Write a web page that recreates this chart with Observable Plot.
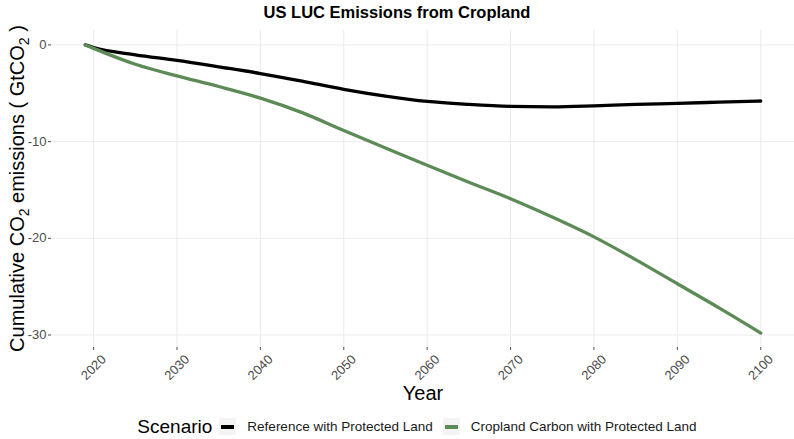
<!DOCTYPE html>
<html>
<head>
<meta charset="utf-8">
<script src="https://cdn.jsdelivr.net/npm/d3@7"></script>
<script src="https://cdn.jsdelivr.net/npm/@observablehq/plot@0.6"></script>
<style>
  body { margin: 0; background: #fff; font-family: "Liberation Sans", Arial, sans-serif; }
  #wrap { width: 794px; height: 439px; overflow: hidden; }
  #title { height: 24px; line-height: 24px; text-align: center; font-weight: bold; font-size: 16.5px; color: #000; }
  #legend { height: 25px; display: flex; align-items: center; justify-content: center; padding-left: 50px; box-sizing: border-box; width: 794px; }
  .lg-title { font-size: 19px; color: #000; margin-right: 7px; }
  .lg-key { width: 17px; height: 17px; background: #f4f4f4; position: relative; margin-right: 11px; }
  .lg-key span { position: absolute; left: 2px; right: 2px; top: 7px; height: 3.5px; }
  .lg-label { font-size: 13.5px; color: #1a1a1a; margin-right: 10px; }
</style>
</head>
<body>
<div id="wrap">
  <div id="title">US LUC Emissions from Cropland</div>
  <div id="chart"></div>
  <div id="legend"></div>
</div>
<script>
const years = [2019, 2020, 2025, 2030, 2035, 2040, 2045, 2050, 2055, 2060, 2065, 2070, 2075, 2080, 2085, 2090, 2095, 2100];
const referenceValues = [0, -0.27, -1.03, -1.6, -2.27, -2.96, -3.75, -4.6, -5.3, -5.85, -6.15, -6.35, -6.4, -6.3, -6.15, -6.05, -5.92, -5.8];
const croplandValues = [0, -0.36, -2.0, -3.2, -4.3, -5.5, -7.0, -8.85, -10.65, -12.45, -14.2, -15.9, -17.8, -19.85, -22.2, -24.7, -27.2, -29.8];
const scenarios = ["Reference with Protected Land", "Cropland Carbon with Protected Land"];
const colors = ["#000000", "#5c8b57"];
const xTicks = [2020, 2030, 2040, 2050, 2060, 2070, 2080, 2090, 2100];
const yTicks = [0, -10, -20, -30];

const data = [];
years.forEach((y, i) => data.push({year: y, value: referenceValues[i], scenario: scenarios[0]}));
years.forEach((y, i) => data.push({year: y, value: croplandValues[i], scenario: scenarios[1]}));

const chart = Plot.plot({
  width: 794,
  height: 390,
  marginTop: 6,
  marginLeft: 51,
  marginRight: 0,
  marginBottom: 67,
  style: {fontFamily: "'Liberation Sans', Arial, sans-serif", background: "#fff"},
  x: {domain: [2014.95, 2104.05]},
  y: {domain: [-31.29, 1.49]},
  color: {domain: scenarios, range: colors},
  marks: [
    Plot.gridX(xTicks, {stroke: "#ebebeb", strokeOpacity: 1, strokeWidth: 1}),
    Plot.gridY(yTicks, {stroke: "#ebebeb", strokeOpacity: 1, strokeWidth: 1}),
    Plot.axisY({ticks: yTicks, tickSize: 3, tickPadding: 2, fontSize: 13, color: "#4d4d4d", tickFormat: d => String(d), label: null}),
    Plot.axisX({ticks: xTicks, tickSize: 3, tickFormat: () => "", color: "#4d4d4d", label: null}),
    Plot.text(xTicks, {x: d => d, frameAnchor: "bottom", dy: 20, rotate: -45, text: d => String(d), textAnchor: "middle", lineAnchor: "middle", fontSize: 13, fill: "#4d4d4d"}),
    Plot.text(["Year"], {frameAnchor: "bottom", dy: 46, text: d => d, fontSize: 20, fill: "#000", lineAnchor: "middle"}),
    Plot.line(data, {x: "year", y: "value", stroke: "scenario", z: "scenario", strokeWidth: 3.3, curve: "monotone-x"})
  ]
});
document.getElementById("chart").appendChild(chart);

// Y-axis label with subscripts
const svg = d3.select(chart);
const cy = (6 + (390 - 67)) / 2;
const t = svg.append("text")
  .attr("transform", `translate(24,${cy}) rotate(-90)`)
  .attr("text-anchor", "middle")
  .attr("font-size", 20)
  .attr("fill", "#000")
  .attr("font-family", "'Liberation Sans', Arial, sans-serif");
t.append("tspan").text("Cumulative CO");
t.append("tspan").attr("font-size", 14).attr("dy", 5).text("2");
t.append("tspan").attr("dy", -5).text(" emissions ( GtCO");
t.append("tspan").attr("font-size", 14).attr("dy", 5).text("2");
t.append("tspan").attr("dy", -5).text(" )");

// Legend
const lg = document.getElementById("legend");
const title = document.createElement("span");
title.className = "lg-title"; title.textContent = "Scenario";
lg.appendChild(title);
scenarios.forEach((s, i) => {
  const key = document.createElement("span");
  key.className = "lg-key";
  const bar = document.createElement("span");
  bar.style.background = colors[i];
  key.appendChild(bar);
  lg.appendChild(key);
  const lab = document.createElement("span");
  lab.className = "lg-label"; lab.textContent = s;
  lg.appendChild(lab);
});
</script>
</body>
</html>
